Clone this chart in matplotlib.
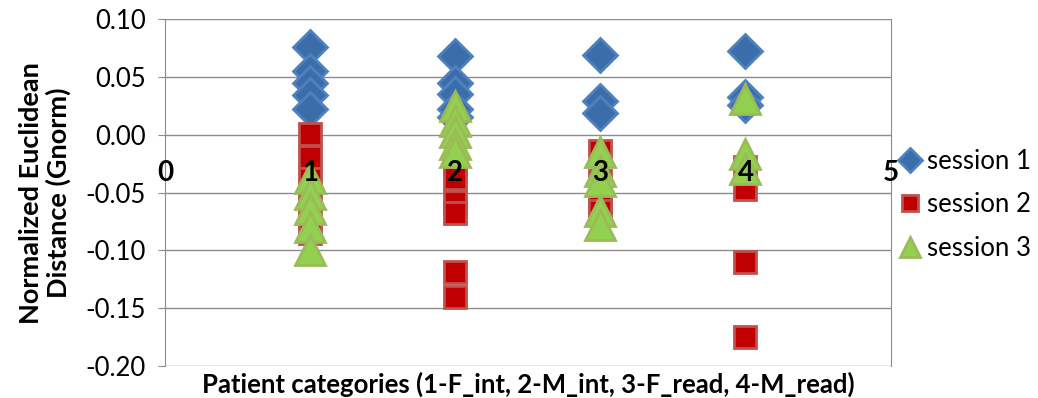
import matplotlib.pyplot as plt

plt.rcParams['font.family'] = ['Lato', 'DejaVu Sans']

# session values per patient category (x)
s1_x = [1, 1, 1, 1, 1, 2, 2, 2, 2, 2, 3, 3, 3, 4, 4, 4]
s1_y = [0.076, 0.055, 0.045, 0.034, 0.022, 0.068, 0.045, 0.035, 0.022, 0.015,
        0.069, 0.029, 0.019, 0.072, 0.033, 0.026]
s2_x = [1, 1, 1, 1, 1, 1, 2, 2, 2, 2, 2, 2, 3, 3, 3, 3, 4, 4, 4, 4]
s2_y = [0.001, -0.019, -0.038, -0.055, -0.070, -0.085,
        -0.025, -0.037, -0.058, -0.068, -0.119, -0.140,
        -0.014, -0.040, -0.058, -0.066,
        -0.028, -0.047, -0.110, -0.175]
s3_x = [1, 1, 1, 1, 1, 2, 2, 2, 2, 2, 3, 3, 3, 3, 3, 4, 4, 4]
s3_y = [-0.037, -0.051, -0.064, -0.080, -0.100,
        0.025, 0.012, 0.002, -0.008, -0.015,
        -0.015, -0.031, -0.040, -0.066, -0.078,
        0.031, -0.017, -0.030]
xcats = [0, 1, 2, 3, 4, 5]

fig = plt.figure(figsize=(10.38, 3.98), dpi=100)
ax = fig.add_axes([0.159, 0.080, 0.699, 0.872])

ax.plot(s1_x, s1_y, 'D', ms=17, mfc='#3C6DAB', mec='#4F81BD', mew=2, label='session 1', zorder=3)
ax.plot(s2_x, s2_y, 's', ms=16, mfc='#C00000', mec='#C0504D', mew=2, label='session 2', zorder=4)
ax.plot(s3_x, s3_y, '^', ms=21, mfc='#92D050', mec='#9BBB59', mew=2, label='session 3', zorder=5)

ax.set_xlim(0, 5)
ax.set_ylim(-0.20, 0.10)
ax.set_yticks([0.10, 0.05, 0.00, -0.05, -0.10, -0.15, -0.20])
ax.set_yticklabels(['0.10', '0.05', '0.00', '-0.05', '-0.10', '-0.15', '-0.20'], fontsize=18.5)
ax.grid(True, axis='y', color='#8C8C8C', linewidth=1)
ax.set_axisbelow(True)
ax.set_xticks([])
for s in ['top', 'bottom']:
    ax.spines[s].set_visible(False)
for s in ['left', 'right']:
    ax.spines[s].set_color('#8C8C8C')
ax.tick_params(axis='y', direction='out', length=5, color='#8C8C8C', pad=9)

# category labels sit on the horizontal axis crossing
for c in xcats:
    ax.text(c, -0.033, str(c), ha='center', va='center', fontsize=20,
            fontweight='bold', zorder=6)

ax.set_xlabel('Patient categories (1-F_int, 2-M_int, 3-F_read, 4-M_read)',
              fontsize=18.5, fontweight='bold', labelpad=4)
ax.set_ylabel('Normalized Euclidean\nDistance (Gnorm)', fontsize=19.5,
              fontweight='bold', labelpad=10, linespacing=1.15)

ax.legend(loc='center left', bbox_to_anchor=(0.866, 0.485), bbox_transform=fig.transFigure,
          frameon=False, fontsize=18.5, markerscale=0.7, handletextpad=0.2,
          labelspacing=0.72, handlelength=0.9, borderaxespad=0, borderpad=0)

fig.savefig('out.png', dpi=100)
